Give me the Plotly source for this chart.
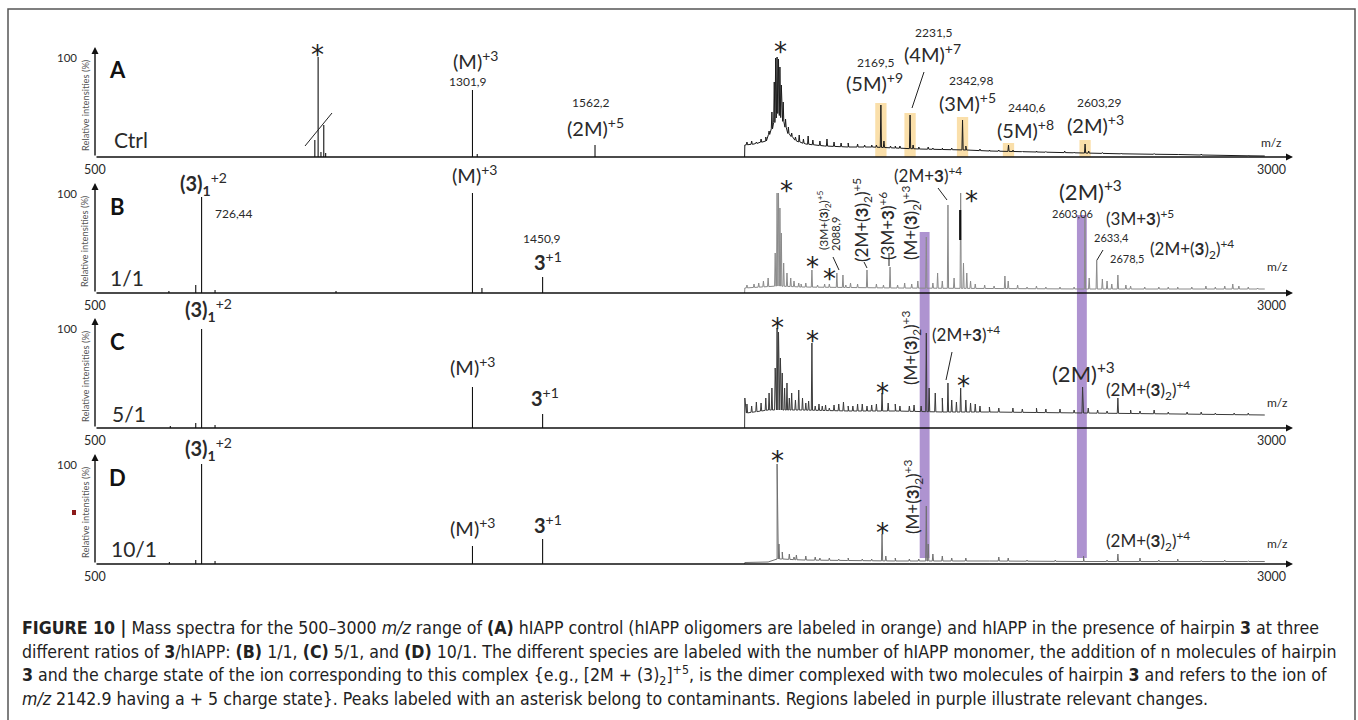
import numpy as np
import plotly.graph_objects as go

W, H = 1358, 720

# ---------------- data (m/z, relative intensity %) ----------------
# low-m/z stick peaks (normal scale) per panel
low_A = [(967, 17), (974, 100), (980, 5), (986, 32), (990, 4), (1301.9, 67), (1312, 3), (1562.2, 12)]
low_B = [(657, 2), (714, 8), (726.44, 96), (755, 3), (1012, 2), (1301.9, 100), (1322, 5), (1450.9, 16)]
low_C = [(660, 2), (714, 5), (726.44, 99), (755, 3), (1301.9, 41), (1450.9, 14)]
low_D = [(658, 2), (714, 4), (726.44, 100), (755, 3), (1301.9, 18), (1450.9, 25)]

# magnified high-m/z region: baseline profile
base_A = [(1880, 0), (1880.5, 12), (1900, 13), (1925, 16), (1940, 30), (1950, 45), (1960, 38), (1972, 24),
          (1990, 16), (2010, 13), (2050, 11), (2100, 10), (2150, 10), (2200, 9), (2250, 8), (2300, 7.5),
          (2350, 7), (2400, 6), (2450, 5.5), (2500, 5), (2550, 4.5), (2600, 4), (2700, 3), (2800, 2.5),
          (2900, 1.5), (2985, 1)]
base_B = [(1880, 0), (1880.5, 5), (1950, 7), (2000, 6), (2200, 5), (2400, 4.5), (2600, 4), (2800, 4), (2985, 4)]
base_C = [(1880, 0), (1880.5, 30), (1884, 15), (1900, 16), (1930, 18), (2000, 18), (2100, 17), (2200, 17),
          (2300, 16), (2400, 16), (2500, 15.5), (2600, 15), (2700, 14.5), (2800, 14), (2985, 13)]
base_D = [(1880, 0), (1880.5, 1.5), (1930, 2), (1949, 5), (1960, 5), (2000, 4), (2100, 3.5), (2200, 3),
          (2400, 3), (2600, 2.5), (2800, 2.5), (2985, 2.5)]

# magnified high-m/z region: peaks
high_A = [(1885, 15), (1895, 16), (1905, 15), (1915, 18), (1925, 20), (1932, 26),
          (1938, 45), (1943, 75), (1946, 99), (1949, 100), (1952, 98), (1955, 90), (1958, 72), (1962, 55),
          (1967, 38), (1973, 30), (1980, 24), (1988, 20), (1996, 22), (2005, 18), (2015, 21), (2025, 17),
          (2040, 16), (2055, 18), (2070, 15), (2085, 14), (2100, 14), (2120, 13), (2135, 12), (2150, 12),
          (2160, 12), (2169.5, 52), (2176, 16), (2190, 11), (2200, 11), (2210, 11), (2231.5, 42), (2238, 12),
          (2250, 10), (2270, 10), (2280, 9), (2300, 9), (2320, 9), (2342.98, 37), (2350, 11), (2380, 8),
          (2400, 7), (2420, 7), (2440.6, 12), (2450, 7), (2470, 6), (2500, 6), (2520, 5.5), (2560, 6),
          (2580, 5), (2603.29, 13), (2611, 6), (2640, 4.5), (2680, 4), (2700, 3.5), (2750, 3.5),
          (2800, 3), (2850, 3), (2950, 2)]
high_B = [(1885, 8), (1900, 9), (1910, 10), (1920, 12), (1930, 15), (1945, 40), (1949, 100), (1952, 100),
          (1955, 85), (1958, 60), (1963, 30), (1970, 20), (1978, 15), (1985, 12), (1995, 10), (2000, 9),
          (2010, 10), (2023, 23), (2035, 8), (2050, 9), (2060, 9), (2076, 20), (2088.9, 18), (2095, 8),
          (2105, 10), (2120, 9), (2140, 23), (2160, 9), (2175, 8), (2189, 26), (2205, 8), (2220, 10),
          (2235, 9), (2248, 12), (2266, 56), (2280, 10), (2290, 20), (2300, 12), (2312, 88), (2325, 15),
          (2339, 100), (2345, 30), (2352, 20), (2360, 12), (2370, 9), (2390, 8), (2410, 7), (2433, 17),
          (2440, 12), (2460, 8), (2480, 6), (2500, 7), (2520, 6), (2550, 6), (2580, 6), (2603, 76),
          (2612, 15), (2628, 33), (2640, 14), (2650, 12), (2660, 9), (2673, 18), (2690, 8), (2700, 7),
          (2730, 6), (2760, 6), (2780, 6), (2800, 6), (2830, 6), (2860, 7), (2880, 6), (2900, 7),
          (2917, 9), (2930, 7), (2950, 6), (2970, 5)]
high_C = [(1885, 24), (1895, 22), (1905, 26), (1915, 25), (1925, 30), (1932, 35),
          (1938, 40), (1945, 60), (1949, 100), (1952, 96), (1956, 70), (1960, 55), (1965, 40), (1970, 45),
          (1975, 30), (1980, 35), (1988, 28), (1995, 38), (2003, 30), (2010, 25), (2016, 27), (2023, 85),
          (2030, 22), (2038, 24), (2045, 22), (2052, 23), (2060, 20), (2070, 23), (2080, 24), (2090, 26),
          (2100, 22), (2110, 22), (2120, 24), (2130, 24), (2140, 22), (2150, 23), (2160, 24), (2172, 35),
          (2185, 25), (2200, 24), (2210, 22), (2230, 22), (2240, 23), (2255, 22), (2266, 95), (2272, 40),
          (2285, 35), (2300, 30), (2312, 45), (2320, 28), (2330, 26), (2339, 40), (2350, 28), (2360, 25),
          (2370, 24), (2380, 22), (2400, 21), (2420, 20), (2450, 20), (2470, 19), (2500, 20), (2520, 19),
          (2550, 19), (2580, 18), (2598, 41), (2610, 20), (2630, 18), (2650, 17), (2673, 30), (2700, 18),
          (2720, 17), (2750, 18), (2780, 16), (2820, 16), (2850, 16), (2880, 15), (2920, 15), (2950, 15)]
high_D = [(1949, 100), (1953, 20), (1960, 12), (1975, 10), (1985, 7), (1990, 9), (2010, 8), (2030, 7),
          (2040, 6), (2060, 6), (2080, 5), (2100, 6), (2130, 5), (2150, 5), (2172, 30), (2180, 8),
          (2200, 6), (2230, 5), (2250, 5), (2266, 58), (2270, 20), (2280, 10), (2300, 8), (2320, 6),
          (2350, 6), (2420, 7), (2440, 6), (2480, 4), (2540, 4), (2600, 8), (2650, 4), (2673, 10),
          (2720, 6), (2760, 4), (2800, 5), (2850, 3.5), (2900, 4), (2950, 3)]

# dark overdrawn segment on the B contaminant peak (m/z, from, to)
thick_B = [(2338, 53, 83)]

# orange highlighted oligomer peaks (panel A)
orange_mz = [2169.5, 2231.5, 2342.98, 2440.6, 2603.29]
orange_top = [54, 44, 40, 14, 17]
# purple regions (panels B-D)
purple_mz = [2262.5, 2596.5]

panels = ["A", "B", "C", "D"]
ratios = ["Ctrl", "1/1", "5/1", "10/1"]
lows = [low_A, low_B, low_C, low_D]
bases = [base_A, base_B, base_C, base_D]
highs = [high_A, high_B, high_C, high_D]
high_colors = ["#1a1a1a", "#8a8a8a", "#3a3a3a", "#707070"]

X_MIN, X_MAX = 500, 3000
X_END = 3045
Y_TOP = 112
baselines_px = [157, 293, 428, 564]
X0_PX, X1_PX = 95, 1293


def px(x):
    return x / W


def py(y):
    return 1 - y / H


fig = go.Figure()

layout_axes = {}
for i in range(4):
    xs = "" if i == 0 else str(i + 1)
    yb = baselines_px[i]
    layout_axes["xaxis" + xs] = dict(domain=[px(X0_PX), px(X1_PX)], range=[X_MIN, X_END], visible=False,
                                     anchor="y" + xs, fixedrange=True)
    layout_axes["yaxis" + xs] = dict(domain=[py(yb), py(yb - Y_TOP)], range=[0, Y_TOP], visible=False,
                                     anchor="x" + xs, fixedrange=True)

for i in range(4):
    xs = "" if i == 0 else str(i + 1)
    xa, ya = "x" + xs, "y" + xs
    # low range sticks
    sx, sy = [], []
    for m, h in lows[i]:
        sx += [m, m, None]
        sy += [0, h, None]
    fig.add_trace(go.Scatter(x=sx, y=sy, mode="lines", line=dict(color="#111111", width=1.1),
                             xaxis=xa, yaxis=ya, hoverinfo="skip", showlegend=False))
    # magnified profile
    bx = [p[0] for p in bases[i]]
    by = [p[1] for p in bases[i]]
    pts = list(bases[i])
    for m, h in highs[i]:
        b = float(np.interp(m, bx, by))
        pts += [(m - 1.3, b), (m, h), (m + 1.3, b)]
    pts.sort(key=lambda p: p[0])
    fig.add_trace(go.Scatter(x=[p[0] for p in pts], y=[p[1] for p in pts], mode="lines",
                             line=dict(color=high_colors[i], width=1),
                             xaxis=xa, yaxis=ya, hoverinfo="skip", showlegend=False))

# thick overdrawn segment in B
tx, ty = [], []
for m, a, b in thick_B:
    tx += [m, m, None]
    ty += [a, b, None]
fig.add_trace(go.Scatter(x=tx, y=ty, mode="lines", line=dict(color="#111111", width=2.2),
                         xaxis="x2", yaxis="y2", hoverinfo="skip", showlegend=False))

shapes = []
# orange boxes
for m, t in zip(orange_mz, orange_top):
    shapes.append(dict(type="rect", xref="x", yref="y", x0=m - 12, x1=m + 12, y0=0, y1=t,
                       fillcolor="rgba(246,196,100,0.55)", line=dict(width=0), layer="below"))
# purple bars
for m, top in zip(purple_mz, [232, 215]):
    shapes.append(dict(type="rect", xref="x2", yref="paper", x0=m - 10.5, x1=m + 10.5,
                       y0=py(558), y1=py(top), fillcolor="rgba(160,128,200,0.85)",
                       line=dict(width=0), layer="below"))
# outer frame
shapes.append(dict(type="rect", xref="paper", yref="paper", x0=px(8), x1=px(1355), y0=py(740), y1=py(9),
                   line=dict(color="#555555", width=1.5), fillcolor="rgba(0,0,0,0)"))
# leader lines
for (x0, y0, x1, y1) in [(924, 72, 912, 108), (305, 146, 332, 113), (833, 257, 839, 270),
                          (889, 253, 889, 266), (938, 188, 947, 200), (1103, 250, 1097, 260),
                          (952, 352, 946, 380), (864, 262, 867, 268)]:
    shapes.append(dict(type="line", xref="paper", yref="paper", x0=px(x0), y0=py(y0), x1=px(x1), y1=py(y1),
                       line=dict(color="#222222", width=1)))
# small red marker
shapes.append(dict(type="rect", xref="paper", yref="paper", x0=px(72), x1=px(76), y0=py(515), y1=py(510),
                   fillcolor="#8b1a1a", line=dict(width=0)))

ann = []
LF = "Lato, 'Open Sans', sans-serif"
TC = "#2a2a2a"


def lab(text, x, y, size=20, angle=0, color=TC, xanchor="center", font=LF):
    ann.append(dict(text=text, x=px(x), y=py(y), xref="paper", yref="paper", showarrow=False,
                    xanchor=xanchor, yanchor="middle", textangle=angle,
                    font=dict(family=font, size=size, color=color)))


def star(x, y):
    lab("*", x, y + 7, 26, color="#222222", font="'DejaVu Sans', sans-serif")


# axes, ticks, titles
for i in range(4):
    xs = "" if i == 0 else str(i + 1)
    xa, ya = "x" + xs, "y" + xs
    ann.append(dict(x=X_END, y=0, ax=X_MIN, ay=0, xref=xa, yref=ya, axref=xa, ayref=ya, text="",
                    showarrow=True, arrowhead=2, arrowsize=1, arrowwidth=1.4, arrowcolor="#111111"))
    ann.append(dict(x=X_MIN, y=110, ax=X_MIN, ay=0, xref=xa, yref=ya, axref=xa, ayref=ya, text="",
                    showarrow=True, arrowhead=2, arrowsize=1, arrowwidth=1.4, arrowcolor="#111111"))
    for v in [X_MIN, X_MAX]:
        ann.append(dict(x=v, y=0, xref=xa, yref=ya, text=str(v), showarrow=False, yanchor="top", yshift=-3,
                        font=dict(family=LF, size=12.5, color=TC)))
    ann.append(dict(x=X_MIN, y=100, xref=xa, yref=ya, text="100", showarrow=False, xanchor="right",
                    xshift=-16, font=dict(family=LF, size=11.5, color=TC)))
    yb = baselines_px[i]
    lab("Relative intensities (%)", 85, yb - 52, size=9.3, angle=-90, color="#555555")
    lab("<b>" + panels[i] + "</b>", 117, yb - 87, size=22, color="#111111")

# ratio labels
for r, (x, y) in zip(ratios, [(131, 140), (127, 277), (129, 413), (134, 548)]):
    lab(r, x, y, size=21)

sup = lambda s: "<sup>" + s + "</sup>"
three = "<b>3</b>"
m32 = "(" + three + ")<sub>2</sub>"
b31 = "<b>(3)<sub>1</sub></b>" + sup("+2")

# Panel A
star(317, 48)
lab("(M)" + sup("+3"), 476, 60, 20)
lab("1301,9", 468, 81, 12)
lab("1562,2", 591, 103, 12)
lab("(2M)" + sup("+5"), 595, 127, 20)
star(781, 45)
lab("2169,5", 876, 62, 12)
lab("(5M)" + sup("+9"), 874, 82, 20)
lab("2231,5", 934, 33, 12)
lab("(4M)" + sup("+7"), 932, 53, 20)
lab("2342,98", 971, 80, 12)
lab("(3M)" + sup("+5"), 967, 102, 20)
lab("2440,6", 1027, 107, 12)
lab("(5M)" + sup("+8"), 1025, 129, 20)
lab("2603,29", 1099, 103, 12)
lab("(2M)" + sup("+3"), 1095, 124, 20)
lab("m/z", 1271, 143, 12)

# Panel B
lab(b31, 203, 184, 20)
lab("726,44", 234, 213, 12)
lab("(M)" + sup("+3"), 475, 174, 20)
lab("1450,9", 542, 239, 12)
lab(three + sup("+1"), 548, 261, 20)
star(786, 184)
star(812, 260)
star(829, 272)
lab("(3M+" + m32 + ")" + sup("+5"), 824, 220, 12, angle=-90)
lab("2088,9", 836, 234, 11, angle=-90)
lab("(2M+" + m32 + ")" + sup("+5"), 862, 220, 17, angle=-90)
lab("(3M+" + three + ")" + sup("+6"), 886, 226, 17, angle=-90)
lab("(M+" + m32 + ")" + sup("+3"), 911, 222, 17, angle=-90)
lab("(2M+" + three + ")" + sup("+4"), 928, 174, 17)
star(971, 194)
lab("(2M)" + sup("+3"), 1090, 191, 22)
lab("2603,06", 1072, 213, 11)
lab("(3M+" + three + ")" + sup("+5"), 1140, 217, 17)
lab("2633,4", 1111, 238, 11)
lab("2678,5", 1127, 258, 11)
lab("(2M+" + m32 + ")" + sup("+4"), 1192, 249, 17)
lab("m/z", 1277, 266, 12)

# Panel C
lab(b31, 208, 310, 20)
lab("(M)" + sup("+3"), 473, 366, 20)
lab(three + sup("+1"), 545, 397, 20)
star(777, 321)
star(812, 334)
star(882, 386)
star(963, 379)
lab("(M+" + m32 + ")" + sup("+3"), 911, 347, 17, angle=-90)
lab("(2M+" + three + ")" + sup("+4"), 966, 333, 17)
lab("(2M)" + sup("+3"), 1083, 372, 22)
lab("(2M+" + m32 + ")" + sup("+4"), 1148, 390, 17)
lab("m/z", 1277, 402, 12)

# Panel D
lab(b31, 208, 449, 20)
lab("(M)" + sup("+3"), 473, 527, 20)
lab(three + sup("+1"), 548, 524, 20)
star(777, 454)
star(882, 526)
lab("(M+" + m32 + ")" + sup("+3"), 913, 497, 17, angle=-90)
lab("(2M+" + m32 + ")" + sup("+4"), 1148, 541, 17)
lab("m/z", 1277, 543, 12)

# caption
CF = "'DejaVu Sans Condensed', 'Liberation Sans Narrow', sans-serif"
cap = [
    "<b>FIGURE 10 |</b> Mass spectra for the 500–3000 <i>m/z</i> range of <b>(A)</b> hIAPP control (hIAPP oligomers are labeled in orange) and hIAPP in the presence of hairpin <b>3</b> at three",
    "different ratios of <b>3</b>/hIAPP: <b>(B)</b> 1/1, <b>(C)</b> 5/1, and <b>(D)</b> 10/1. The different species are labeled with the number of hIAPP monomer, the addition of n molecules of hairpin",
    "<b>3</b> and the charge state of the ion corresponding to this complex {e.g., [2M + (3)<sub>2</sub>]<sup>+5</sup>, is the dimer complexed with two molecules of hairpin <b>3</b> and refers to the ion of",
    "<i>m/z</i> 2142.9 having a + 5 charge state}. Peaks labeled with an asterisk belong to contaminants. Regions labeled in purple illustrate relevant changes.",
]
for k, line in enumerate(cap):
    lab(line, 20, 628 + 23.5 * k, 17.6, color="#222222", xanchor="left", font=CF)

fig.update_layout(width=W, height=H, margin=dict(l=0, r=0, t=0, b=0), paper_bgcolor="white",
                  plot_bgcolor="rgba(0,0,0,0)", shapes=shapes, annotations=ann, **layout_axes)

fig.write_html("out.html", config={"displayModeBar": False})
